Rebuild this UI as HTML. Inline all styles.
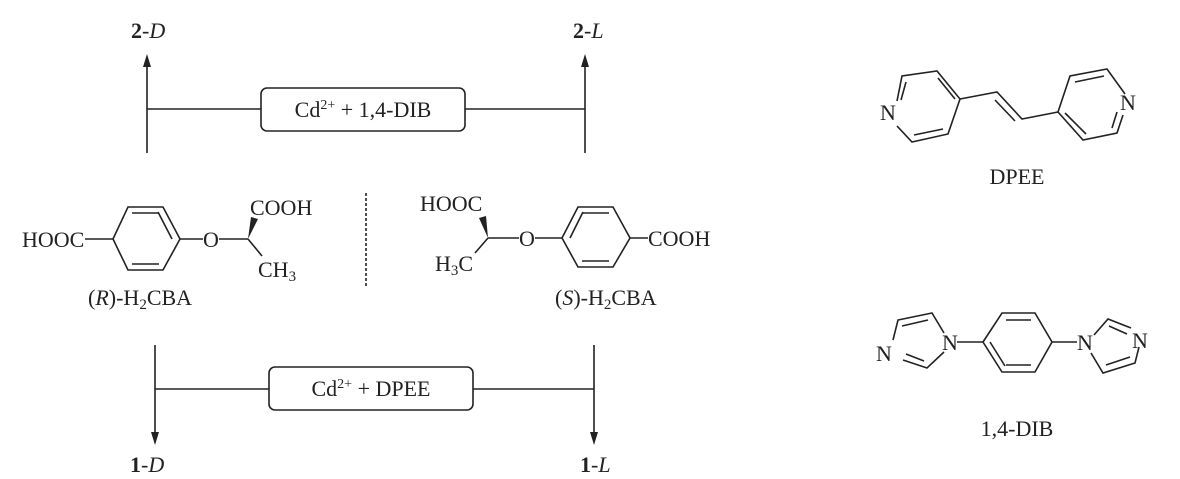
<!DOCTYPE html>
<html><head><meta charset="utf-8"><style>
html,body{margin:0;padding:0;background:#fff;}
svg{display:block;}
text{font-family:"Liberation Serif",serif;fill:#222;font-size:22px;}
</style></head><body>
<svg width="1180" height="479" viewBox="0 0 1180 479" xmlns="http://www.w3.org/2000/svg">
<g stroke="#222" stroke-width="1.6" fill="none">
<line x1="147" y1="153" x2="147" y2="60"/>
<line x1="585" y1="153" x2="585" y2="60"/>
<line x1="147" y1="109" x2="261" y2="109"/>
<line x1="465" y1="109" x2="585" y2="109"/>
<rect x="261" y="88" width="204" height="43" rx="6"/>
<line x1="155" y1="345" x2="155" y2="438"/>
<line x1="594" y1="345" x2="594" y2="438"/>
<line x1="155" y1="389" x2="269" y2="389"/>
<line x1="473" y1="389" x2="594" y2="389"/>
<rect x="269" y="367" width="204" height="43" rx="6"/>
<line x1="366" y1="193" x2="366" y2="287" stroke-dasharray="3,2"/>
</g>
<g fill="#222">
<polygon points="147,54 143,67 151,67"/>
<polygon points="585,54 581,67 589,67"/>
<polygon points="155,445 151,432 159,432"/>
<polygon points="594,445 590,432 598,432"/>
</g>
<text x="131" y="38"><tspan font-weight="bold">2</tspan>-<tspan font-style="italic">D</tspan></text>
<text x="573" y="38"><tspan font-weight="bold">2</tspan>-<tspan font-style="italic">L</tspan></text>
<text x="130" y="472"><tspan font-weight="bold">1</tspan>-<tspan font-style="italic">D</tspan></text>
<text x="580" y="472"><tspan font-weight="bold">1</tspan>-<tspan font-style="italic">L</tspan></text>
<text x="363" y="117" text-anchor="middle">Cd<tspan font-size="14" dy="-8">2+</tspan><tspan dy="8"> + 1,4-DIB</tspan></text>
<text x="371" y="396" text-anchor="middle">Cd<tspan font-size="14" dy="-8">2+</tspan><tspan dy="8"> + DPEE</tspan></text>

<g stroke="#222" stroke-width="1.6" fill="none">
<line x1="85" y1="239" x2="113" y2="239"/>
<polygon points="113,239 128,207 163,207 180,239 163,270 128,270"/>
<line x1="132" y1="213" x2="159" y2="213"/>
<line x1="132" y1="264" x2="159" y2="264"/>
<line x1="172" y1="239" x2="158" y2="212"/>
<line x1="180" y1="239" x2="203" y2="239"/>
<line x1="219" y1="239" x2="248" y2="239"/>
<line x1="248" y1="239" x2="262" y2="256"/>
</g>
<polygon points="248,239 251,217 258,219" fill="#222"/>
<text x="22" y="247">HOOC</text>
<text x="203" y="247">O</text>
<text x="250" y="215">COOH</text>
<text x="258" y="277">CH<tspan font-size="15" dy="4">3</tspan></text>
<text x="88" y="305">(<tspan font-style="italic">R</tspan>)-H<tspan font-size="15" dy="4">2</tspan><tspan dy="-4">CBA</tspan></text>

<g stroke="#222" stroke-width="1.6" fill="none">
<polygon points="562,238 578,207 613,207 630,238 613,267 578,267"/>
<line x1="582" y1="213" x2="609" y2="213"/>
<line x1="582" y1="261" x2="609" y2="261"/>
<line x1="570" y1="238" x2="583" y2="212"/>
<line x1="630" y1="238" x2="648" y2="238"/>
<line x1="535" y1="238" x2="562" y2="238"/>
<line x1="488" y1="238" x2="519" y2="238"/>
<line x1="488" y1="238" x2="475" y2="253"/>
</g>
<polygon points="488,238 479,218 486,216" fill="#222"/>
<text x="420" y="211">HOOC</text>
<text x="519" y="246">O</text>
<text x="648" y="246">COOH</text>
<text x="435" y="271">H<tspan font-size="15" dy="4">3</tspan><tspan dy="-4">C</tspan></text>
<text x="555" y="305">(<tspan font-style="italic">S</tspan>)-H<tspan font-size="15" dy="4">2</tspan><tspan dy="-4">CBA</tspan></text>

<g stroke="#222" stroke-width="1.6" fill="none">
<polyline points="897,101 902,76 937,71 960,99 948,134 912,142 897,126"/>
<line x1="906" y1="82" x2="901" y2="100"/>
<line x1="938" y1="78" x2="955" y2="99"/>
<line x1="914" y1="135" x2="943" y2="129"/>
<polyline points="960,99 997,92 1022,119 1058,112"/>
<line x1="995" y1="100" x2="1015" y2="121"/>
<polyline points="1125,94 1107,69 1070,76 1058,112 1083,140 1117,133 1123,115"/>
<line x1="1075" y1="82" x2="1104" y2="76"/>
<line x1="1065" y1="113" x2="1086" y2="134"/>
<line x1="1112" y1="128" x2="1117" y2="112"/>
</g>
<text x="880" y="120">N</text>
<text x="1120" y="110">N</text>
<text x="1017" y="184" text-anchor="middle">DPEE</text>

<g stroke="#222" stroke-width="1.6" fill="none">
<polyline points="893,340 898,320 932,313 944,333"/>
<line x1="902" y1="326" x2="928" y2="320"/>
<polyline points="944,352 927,368 903,360"/>
<line x1="924" y1="361" x2="906" y2="354"/>
<line x1="957" y1="342" x2="983" y2="342"/>
<polygon points="983,342 1002,313 1035,313 1052,342 1035,372 1002,372"/>
<line x1="1006" y1="320" x2="1031" y2="320"/>
<line x1="1006" y1="365" x2="1031" y2="365"/>
<line x1="990" y1="342" x2="1005" y2="366"/>
<line x1="1052" y1="342" x2="1077" y2="342"/>
<polyline points="1094,335 1108,319 1131,328"/>
<line x1="1109" y1="326" x2="1127" y2="334"/>
<polyline points="1139,347 1135,363 1103,373 1091,353"/>
<line x1="1130" y1="357" x2="1106" y2="365"/>
</g>
<text x="876" y="361">N</text>
<text x="942" y="350">N</text>
<text x="1077" y="350">N</text>
<text x="1132" y="348">N</text>
<text x="1017" y="436" text-anchor="middle">1,4-DIB</text>
</svg>
</body></html>
